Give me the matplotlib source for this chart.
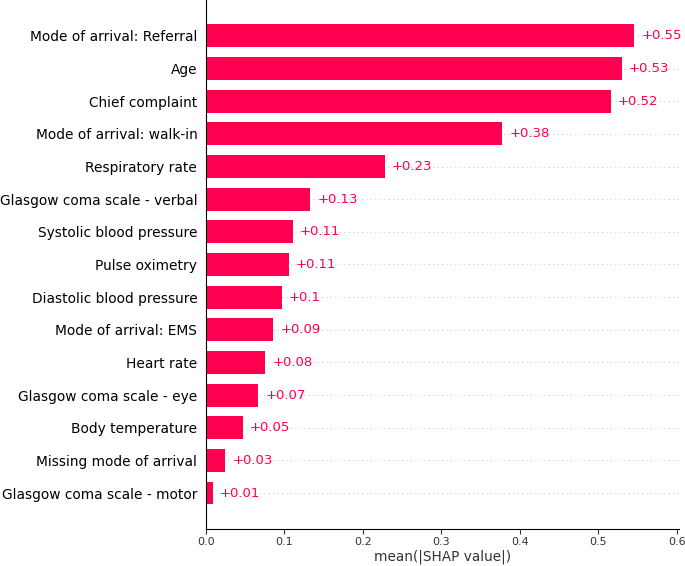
import matplotlib
matplotlib.use("Agg")
import matplotlib.pyplot as plt
import numpy as np

# mean(|SHAP|) per feature (top to bottom)
features = [
    "Mode of arrival: Referral",
    "Age",
    "Chief complaint",
    "Mode of arrival: walk-in",
    "Respiratory rate",
    "Glasgow coma scale - verbal",
    "Systolic blood pressure",
    "Pulse oximetry",
    "Diastolic blood pressure",
    "Mode of arrival: EMS",
    "Heart rate",
    "Glasgow coma scale - eye",
    "Body temperature",
    "Missing mode of arrival",
    "Glasgow coma scale - motor",
]
mean_shap = [0.546, 0.530, 0.516, 0.378, 0.228, 0.133, 0.111, 0.106, 0.097,
             0.086, 0.076, 0.067, 0.0475, 0.025, 0.009]

red = "#ff0051"

def fmt(v):
    s = "%+0.02f" % v
    s = s.rstrip("0").rstrip(".") if "." in s else s
    return s

fig = plt.figure(figsize=(6.85, 5.66), dpi=100)
ax = fig.add_axes([0.3003, 0.0654, 0.6914, 0.9346])

y_pos = np.arange(len(features))[::-1]
for y in y_pos:
    ax.axhline(y, color="#cccccc", lw=0.8, dashes=(1, 3), zorder=-1)
ax.barh(y_pos, mean_shap, height=0.7, color=red, align="center", zorder=2)

for y, v in zip(y_pos, mean_shap):
    ax.text(v + 0.009, y, fmt(v), ha="left", va="center", color=red, fontsize=9.5)

ax.set_yticks(y_pos)
ax.set_yticklabels(features, fontsize=9.9, color="black")
ax.tick_params(axis="y", length=0, pad=6)
ax.tick_params(axis="x", labelsize=8, color="#333333", labelcolor="#333333", pad=2)
ax.set_xlim(0, 0.6033)
ax.set_ylim(-1.1, len(features) - 1 + 1.1)
ax.set_xticks([0.0, 0.1, 0.2, 0.3, 0.4, 0.5, 0.6])
ax.set_xlabel("mean(|SHAP value|)", fontsize=9.8, color="#333333", labelpad=2)

ax.spines["top"].set_visible(False)
ax.spines["right"].set_visible(False)

fig.savefig("out.png", dpi=100)
